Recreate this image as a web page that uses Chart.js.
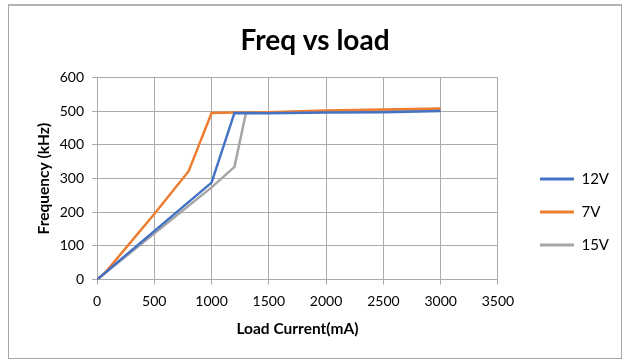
<!DOCTYPE html>
<html>
<head>
<meta charset="utf-8">
<script src="https://cdn.jsdelivr.net/npm/chart.js@4.4.1/dist/chart.umd.min.js"></script>
<style>
    body { margin: 0; background: #fff; }
    #quadro {
        position: absolute; left: 8px; top: 4px;
        width: 614px; height: 355px;
        border-top: 2px solid #b4b4b4; border-left: 1px solid #a6a6a6;
        border-right: 1px solid #a6a6a6; border-bottom: 1px solid #a6a6a6;
        box-sizing: border-box;
    }
</style>
</head>
<body>
<div id="quadro"><canvas id="freqChart" width="612" height="352"></canvas></div>
<script>
// Corrente de carga (mA) e frequência (kHz) por tensão de entrada
const corrente12V = [0, 1000, 1200, 1500, 2000, 2500, 3000];
const freq12V = [0, 288, 495, 494, 496, 497, 501];

const corrente7V = [0, 70, 500, 800, 1000, 1200, 1500, 2000, 2500, 3000];
const freq7V = [0, 20, 195, 322, 495, 496, 497, 502, 505, 508];

const corrente15V = [0, 1000, 1200, 1300, 1500, 2000, 2500, 3000];
const freq15V = [0, 274, 335, 495, 496, 500, 503, 505];

const rotulos = ["12V", "7V", "15V"];
const cores = ["#4472C4", "#ED7D31", "#A5A5A5"];

const fonte = "Lato, 'Open Sans', sans-serif";

function pontos(xs, ys) {
    return xs.map((x, i) => ({ x: x, y: ys[i] }));
}

const series = [
    pontos(corrente12V, freq12V),
    pontos(corrente7V, freq7V),
    pontos(corrente15V, freq15V)
];

// Afasta a legenda do gráfico e desce um pouco os itens
const deslocaLegenda = {
    id: "deslocaLegenda",
    afterLayout(chart) {
        const leg = chart.legend;
        leg.left += 24;
        leg.right += 24;
        leg.top += 34;
        leg.bottom += 34;
    }
};

const ctx = document.getElementById("freqChart").getContext("2d");

new Chart(ctx, {
    type: "line",
    data: {
        datasets: series.map((dados, i) => ({
            label: rotulos[i],
            data: dados,
            borderColor: cores[i],
            backgroundColor: cores[i],
            borderWidth: 2.5,
            pointRadius: 0,
            tension: 0
        }))
    },
    plugins: [deslocaLegenda],
    options: {
        responsive: false,
        animation: false,
        layout: { padding: { left: 26, right: 26, top: 8, bottom: 16 } },
        plugins: {
            title: {
                display: true,
                text: "Freq vs load",
                color: "#000",
                font: { family: fonte, size: 28, weight: "bold" },
                padding: { top: 10, bottom: 20 }
            },
            legend: {
                position: "right",
                align: "center",
                labels: {
                    color: "#000",
                    font: { family: fonte, size: 15 },
                    boxWidth: 34,
                    boxHeight: 3,
                    padding: 18,
                    generateLabels: function (chart) {
                        const itens = Chart.defaults.plugins.legend.labels.generateLabels(chart);
                        itens.forEach(item => { item.lineWidth = 0; });
                        return itens;
                    }
                }
            },
            tooltip: { enabled: false }
        },
        scales: {
            x: {
                type: "linear",
                min: 0,
                max: 3500,
                ticks: {
                    stepSize: 500,
                    color: "#000",
                    padding: 8,
                    font: { family: fonte, size: 14 },
                    maxRotation: 0,
                    callback: valor => String(valor)
                },
                grid: { color: "#ababab", tickLength: 5 },
                border: { color: "#ababab" },
                title: {
                    display: true,
                    text: "Load Current(mA)",
                    color: "#000",
                    font: { family: fonte, size: 15.5, weight: "bold" },
                    padding: { top: 2 }
                }
            },
            y: {
                min: 0,
                max: 600,
                ticks: {
                    stepSize: 100,
                    color: "#000",
                    padding: 8,
                    font: { family: fonte, size: 14 },
                    callback: valor => String(valor)
                },
                grid: { color: "#ababab", tickLength: 5 },
                border: { color: "#ababab" },
                title: {
                    display: true,
                    text: "Frequency (kHz)",
                    color: "#000",
                    font: { family: fonte, size: 15.5, weight: "bold" },
                    padding: { top: 0, bottom: 0 }
                },
                afterFit: function (escala) { escala.width = 62; }
            }
        }
    }
});
</script>
</body>
</html>
